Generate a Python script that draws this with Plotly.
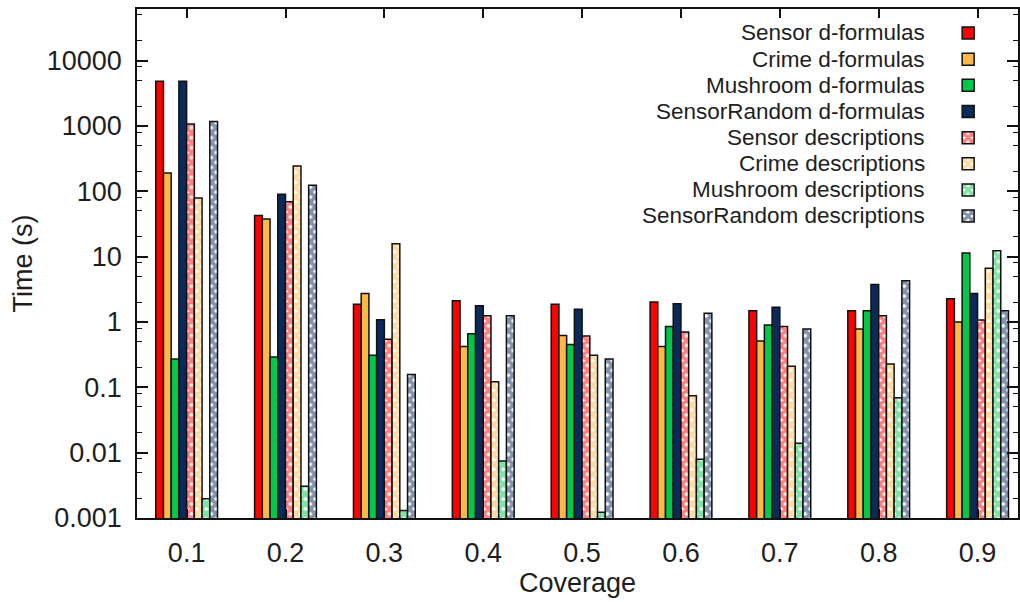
import plotly.graph_objects as go

coverage = ["0.1", "0.2", "0.3", "0.4", "0.5", "0.6", "0.7", "0.8", "0.9"]

sensor_dform = [4800, 42.6, 1.87, 2.1, 1.87, 2.01, 1.48, 1.48, 2.26]
crime_dform = [190, 37.5, 2.72, 0.42, 0.62, 0.42, 0.51, 0.78, 1.0]
mushroom_dform = [0.27, 0.29, 0.31, 0.66, 0.45, 0.85, 0.90, 1.48, 11.3]
sensorrandom_dform = [4800, 89.5, 1.08, 1.77, 1.57, 1.89, 1.68, 3.74, 2.72]
sensor_desc = [1070, 69, 0.545, 1.24, 0.61, 0.70, 0.85, 1.24, 1.07]
crime_desc = [78.7, 243, 15.7, 0.122, 0.31, 0.074, 0.21, 0.228, 6.6]
mushroom_desc = [0.00197, 0.00305, 0.0013, 0.00746, 0.00122, 0.0079, 0.0139, 0.069, 12.3]
sensorrandom_desc = [1170, 123, 0.157, 1.24, 0.27, 1.36, 0.78, 4.26, 1.48]

series_names = [
    "Sensor d-formulas", "Crime d-formulas", "Mushroom d-formulas", "SensorRandom d-formulas",
    "Sensor descriptions", "Crime descriptions", "Mushroom descriptions", "SensorRandom descriptions",
]
series_values = [
    sensor_dform, crime_dform, mushroom_dform, sensorrandom_dform,
    sensor_desc, crime_desc, mushroom_desc, sensorrandom_desc,
]
series_colors = ["#FF0000", "#FFB844", "#00C84B", "#0B2A5C",
                 "#FF0000", "#FFB844", "#00C84B", "#0B2A5C"]
series_hatched = [False, False, False, False, True, True, True, True]

ytick_vals = [0.001, 0.01, 0.1, 1, 10, 100, 1000, 10000]
ytick_text = ["0.001", "0.01", "0.1", "1", "10", "100", "1000", "10000"]
yminor_vals = [m * 10 ** e for e in range(-3, 5) for m in (2, 5, 8)]

FONT = "Liberation Sans, Arial, Helvetica, sans-serif"
TXT = "#1e1e1e"

# plot-area geometry (pixels) used to place the gnuplot-style legend
W, H = 1020, 602
ML, MR, MT, MB = 137, 0, 9, 84
PW, PH = W - ML - MR, H - MT - MB
LEG_ROW0, LEG_STEP = 33, 26.14
LEG_TEXT_RIGHT, LEG_SWATCH_LEFT = 929, 950


def marker_for(col, hatched):
    m = dict(color=col, line=dict(color="#111111", width=1.5))
    if hatched:
        m = dict(
            color="white",
            line=dict(color="#111111", width=1.5),
            pattern=dict(shape="x", fgcolor=col, bgcolor="white", size=7,
                         solidity=0.8, fillmode="overlay"),
        )
    return m


fig = go.Figure()
for name, vals, col, hatched in zip(series_names, series_values, series_colors, series_hatched):
    fig.add_trace(go.Bar(x=coverage, y=vals, name=name, marker=marker_for(col, hatched),
                         showlegend=False))

# legend swatches (empty traces on a hidden helper axis), labels drawn right-aligned
for name, col, hatched in zip(series_names, series_colors, series_hatched):
    fig.add_trace(go.Bar(x=[None], y=[None], name=" ", marker=marker_for(col, hatched),
                         xaxis="x2", yaxis="y2", showlegend=True, hoverinfo="skip"))

annotations = []
for i, name in enumerate(series_names):
    ypx = LEG_ROW0 + i * LEG_STEP
    annotations.append(dict(
        text=name, xref="paper", yref="paper",
        x=(LEG_TEXT_RIGHT - ML) / PW, y=(H - MB - ypx) / PH,
        xanchor="right", yanchor="middle", showarrow=False,
        font=dict(family=FONT, size=22.5, color=TXT),
    ))

fig.update_layout(
    width=W, height=H,
    margin=dict(l=ML, r=MR, t=MT, b=MB),
    paper_bgcolor="white", plot_bgcolor="white",
    barmode="group", bargap=0.375, bargroupgap=0,
    font=dict(family=FONT, size=27, color=TXT),
    legend=dict(
        x=(LEG_SWATCH_LEFT - ML) / PW, y=1 - (LEG_ROW0 - 18 - MT) / PH,
        xanchor="left", yanchor="top",
        bgcolor="rgba(0,0,0,0)", font=dict(size=17.8, color=TXT),
        tracegroupgap=0, itemwidth=30,
    ),
    showlegend=True,
    annotations=annotations,
    xaxis=dict(
        type="category", range=[-0.502, 8.409],
        showline=True, linecolor="#111111", linewidth=1.6, mirror="ticks",
        ticks="inside", ticklen=9, tickwidth=1.5, tickcolor="#111111",
        ticklabelstandoff=10,
        title=dict(text="Coverage", standoff=3, font=dict(size=27)),
        showgrid=False, zeroline=False,
    ),
    yaxis=dict(
        type="log", range=[-3, 4.788],
        tickmode="array", tickvals=ytick_vals, ticktext=ytick_text,
        showline=True, linecolor="#111111", linewidth=1.6, mirror="ticks",
        ticks="inside", ticklen=11, tickwidth=1.5, tickcolor="#111111",
        ticklabelstandoff=8,
        minor=dict(tickmode="array", tickvals=yminor_vals, ticks="inside", ticklen=5,
                   tickwidth=1.2, tickcolor="#111111", showgrid=False),
        title=dict(text="Time (s)", standoff=6, font=dict(size=27)),
        showgrid=False, zeroline=False,
    ),
    xaxis2=dict(domain=[0, 0.001], anchor="y2", visible=False),
    yaxis2=dict(domain=[0, 0.001], anchor="x2", visible=False),
)

fig.write_html("out.html")
